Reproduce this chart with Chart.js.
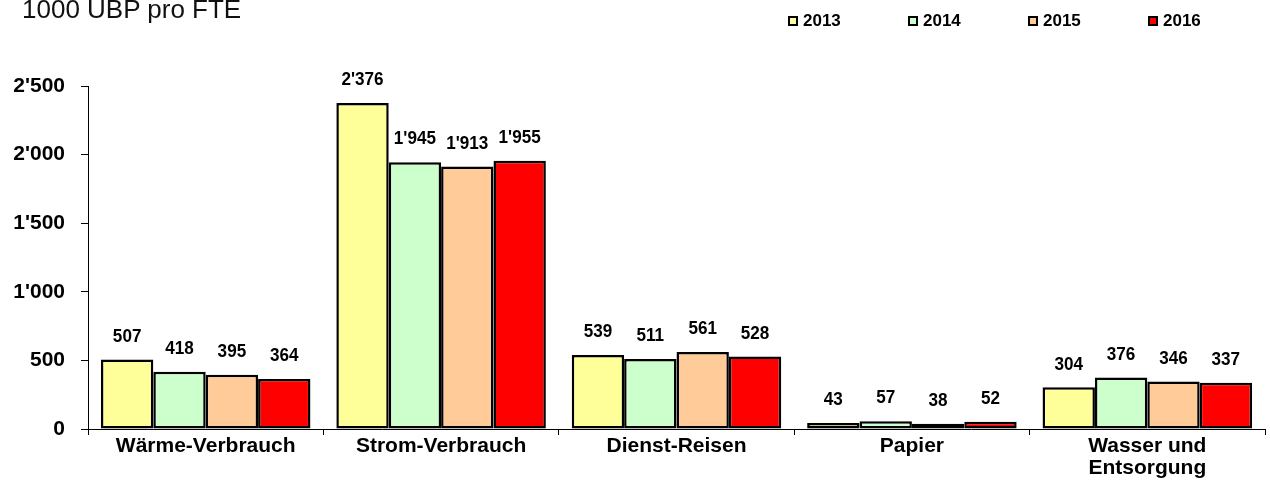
<!DOCTYPE html>
<html>
<head>
<meta charset="utf-8">
<title>UBP pro FTE</title>
<script src="https://cdn.jsdelivr.net/npm/chart.js@4.4.1/dist/chart.umd.min.js"></script>
<style>
  body { margin: 0; background: #fff; }
  #wrap { position: relative; width: 1270px; height: 481px; font-family: Arial, "Liberation Sans", sans-serif; }
  #unit { position: absolute; left: 22px; top: -4px; font-size: 26px; line-height: 26px; color: #111; white-space: nowrap; }
  #legend { position: absolute; left: 788px; top: 12px; display: flex; }
  #legend .item { width: 120px; display: flex; align-items: center; font-weight: bold; font-size: 17px; line-height: 18px; color: #000; }
  #legend .box { width: 10px; height: 10px; border: 2px solid #000; box-sizing: border-box; margin-right: 5px; }
  canvas { position: absolute; left: 0; top: 0; }
</style>
</head>
<body>
<div id="wrap">
  <canvas id="chart" width="1270" height="481"></canvas>
  <div id="unit">1000 UBP pro FTE</div>
  <div id="legend"></div>
</div>
<script>
const categories = [
  "Wärme-Verbrauch",
  "Strom-Verbrauch",
  "Dienst-Reisen",
  "Papier",
  ["Wasser und", "Entsorgung"],
];
const years = ["2013", "2014", "2015", "2016"];
const values2013 = [507, 2376, 539, 43, 304];
const values2014 = [418, 1945, 511, 57, 376];
const values2015 = [395, 1913, 561, 38, 346];
const values2016 = [364, 1955, 528, 52, 337];
const yTicks = [0, 500, 1000, 1500, 2000, 2500];

const seriesValues = [values2013, values2014, values2015, values2016];
const seriesColors = ["#ffff99", "#ccffcc", "#ffcc99", "#ff0000"];
const fontFamily = "Arial, 'Liberation Sans', sans-serif";

function swissNumber(value) {
  return String(value).replace(/\B(?=(\d{3})+(?!\d))/g, "'");
}

// HTML legend, built from the same arrays as the datasets
document.querySelector("#legend").innerHTML = years.map((year, index) => `
  <div class="item"><span class="box" style="background:${seriesColors[index]}"></span>${year}</div>
`).join("");

const valueLabels = {
  id: "valueLabels",
  afterDatasetsDraw(chart) {
    const { ctx } = chart;
    ctx.save();
    ctx.font = `bold 19px ${fontFamily}`;
    ctx.fillStyle = "#000";
    ctx.textAlign = "center";
    ctx.textBaseline = "middle";
    chart.data.datasets.forEach((dataset, datasetIndex) => {
      chart.getDatasetMeta(datasetIndex).data.forEach((bar, index) => {
        ctx.save();
        ctx.translate(bar.x, bar.y - 23);
        ctx.scale(0.9, 1);
        ctx.fillText(swissNumber(dataset.data[index]), 0, 0);
        ctx.restore();
      });
    });
    ctx.restore();
  },
};

new Chart(document.querySelector("#chart"), {
  type: "bar",
  data: {
    labels: categories,
    datasets: years.map((year, index) => ({
      label: year,
      data: seriesValues[index],
      backgroundColor: seriesColors[index],
      borderColor: "#000",
      borderWidth: 2.5,
      borderSkipped: false,
      categoryPercentage: 0.89,
      barPercentage: 1,
    })),
  },
  options: {
    responsive: false,
    animation: false,
    layout: {
      padding: { top: 86, right: 5, bottom: 0, left: 0 },
    },
    plugins: {
      legend: { display: false },
      tooltip: { enabled: false },
    },
    scales: {
      x: {
        grid: {
          offset: true,
          drawOnChartArea: false,
          tickLength: 6,
          color: "#000",
        },
        border: { color: "#000", width: 1 },
        ticks: {
          padding: 0,
          color: "#000",
          maxRotation: 0,
          autoSkip: false,
          font: { family: fontFamily, size: 21, weight: "bold", lineHeight: 1.05 },
        },
        afterFit(scale) {
          scale.height = 52;
        },
      },
      y: {
        min: 0,
        max: 2500,
        afterBuildTicks(scale) {
          scale.ticks = yTicks.map((value) => ({ value }));
        },
        grid: {
          drawOnChartArea: false,
          tickLength: 7,
          color: "#000",
        },
        border: { color: "#000", width: 1 },
        ticks: {
          padding: 16,
          color: "#000",
          font: { family: fontFamily, size: 21, weight: "bold" },
          callback: (value) => swissNumber(value),
        },
        afterFit(scale) {
          scale.width = 88;
        },
      },
    },
  },
  plugins: [valueLabels],
});
</script>
</body>
</html>
